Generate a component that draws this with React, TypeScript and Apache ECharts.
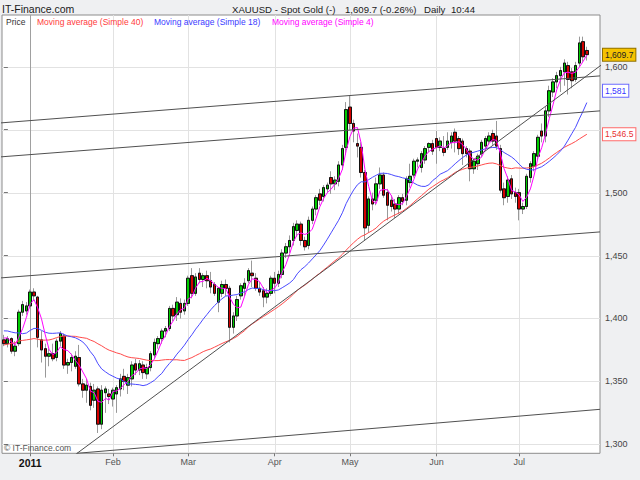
import React, { useEffect, useRef } from 'react';
import * as echarts from 'echarts';

const FONT = '"Liberation Sans", Arial, sans-serif';

// Closes of the 40 sessions before the first visible bar (for moving-average warm-up)
const priorCloses = [
  1345, 1357, 1352, 1356, 1348, 1392, 1394, 1403, 1395, 1403,
  1408, 1368, 1367, 1338, 1338, 1353, 1352, 1358, 1377, 1374,
  1373, 1362, 1366, 1386, 1389, 1389, 1406, 1423, 1400, 1383,
  1390, 1385, 1403, 1397, 1386, 1370, 1378, 1384, 1387, 1387,
];

const opens = [
  1383, 1380, 1384, 1374, 1380, 1405, 1406, 1410, 1421, 1417,
  1383, 1376, 1370, 1372, 1369, 1382, 1386, 1363, 1365, 1362,
  1369, 1348, 1343, 1346, 1335, 1344, 1316, 1341, 1340, 1336,
  1340, 1344, 1354, 1347, 1352, 1364, 1359, 1363, 1356, 1361,
  1371, 1380, 1384, 1390, 1392, 1408, 1403, 1412, 1406, 1412,
  1434, 1420, 1436, 1431, 1434, 1430, 1427, 1413, 1420, 1427,
  1424, 1393, 1402, 1418, 1424, 1430, 1436, 1432, 1424, 1422,
  1417, 1420, 1432, 1428, 1435, 1452, 1457, 1462, 1470, 1475,
  1462, 1458, 1478, 1487, 1499, 1497, 1503, 1512, 1507, 1509,
  1522, 1536, 1568, 1555, 1539, 1536, 1516, 1474, 1495, 1494,
  1507, 1514, 1500, 1494, 1491, 1487, 1496, 1494, 1508, 1514,
  1525, 1520, 1526, 1536, 1539, 1543, 1536, 1535, 1536, 1540,
  1548, 1543, 1541, 1535, 1533, 1519, 1523, 1531, 1537, 1541,
  1547, 1545, 1535, 1503, 1497, 1511, 1500, 1500, 1487, 1489,
  1512, 1521, 1529, 1549, 1545, 1565, 1580, 1588, 1593, 1596,
  1601, 1596, 1590, 1603, 1620, 1613,
];

const highs = [
  1387, 1386, 1385, 1382, 1407, 1414, 1413, 1423, 1424, 1418,
  1390, 1380, 1376, 1380, 1384, 1390, 1388, 1368, 1372, 1374,
  1379, 1352, 1352, 1349, 1348, 1346, 1347, 1346, 1344, 1345,
  1347, 1356, 1360, 1356, 1366, 1368, 1367, 1366, 1364, 1374,
  1384, 1386, 1392, 1394, 1410, 1411, 1417, 1416, 1415, 1434,
  1440, 1436, 1440, 1436, 1438, 1437, 1429, 1425, 1430, 1431,
  1426, 1405, 1418, 1428, 1432, 1440, 1446, 1436, 1429, 1425,
  1424, 1434, 1437, 1438, 1455, 1460, 1466, 1476, 1478, 1477,
  1465, 1481, 1489, 1498, 1503, 1506, 1508, 1517, 1513, 1525,
  1538, 1572, 1577, 1558, 1547, 1540, 1518, 1497, 1500, 1512,
  1520, 1516, 1503, 1498, 1495, 1498, 1499, 1513, 1523, 1527,
  1528, 1533, 1537, 1540, 1542, 1549, 1544, 1545, 1548, 1548,
  1551, 1545, 1543, 1537, 1535, 1527, 1531, 1542, 1545, 1548,
  1550, 1557, 1538, 1508, 1513, 1514, 1504, 1503, 1492, 1515,
  1525, 1533, 1546, 1555, 1568, 1585, 1591, 1596, 1600, 1606,
  1604, 1599, 1604, 1624, 1624, 1616,
];

const lows = [
  1378, 1377, 1372, 1370, 1378, 1402, 1403, 1408, 1414, 1377,
  1365, 1353, 1362, 1366, 1366, 1378, 1360, 1356, 1358, 1360,
  1346, 1337, 1333, 1327, 1329, 1309, 1312, 1325, 1332, 1330,
  1325, 1338, 1343, 1340, 1346, 1355, 1355, 1352, 1352, 1358,
  1368, 1376, 1380, 1385, 1390, 1398, 1398, 1400, 1403, 1410,
  1416, 1418, 1428, 1425, 1424, 1420, 1418, 1405, 1417, 1418,
  1381, 1388, 1398, 1415, 1418, 1428, 1425, 1422, 1418, 1409,
  1412, 1418, 1420, 1425, 1432, 1448, 1452, 1458, 1465, 1458,
  1454, 1455, 1475, 1482, 1490, 1493, 1500, 1499, 1502, 1505,
  1518, 1530, 1550, 1540, 1528, 1512, 1462, 1468, 1486, 1490,
  1503, 1496, 1478, 1485, 1480, 1483, 1490, 1490, 1504, 1512,
  1520, 1516, 1523, 1532, 1530, 1523, 1533, 1529, 1534, 1535,
  1532, 1530, 1522, 1528, 1509, 1515, 1518, 1528, 1533, 1538,
  1538, 1534, 1500, 1490, 1492, 1495, 1492, 1478, 1483, 1487,
  1508, 1517, 1526, 1540, 1540, 1560, 1576, 1583, 1580, 1585,
  1578, 1583, 1588, 1600, 1604, 1605,
];

const closes = [
  1380, 1384, 1374, 1378, 1405, 1411, 1410, 1421, 1418, 1385,
  1375, 1370, 1372, 1368, 1382, 1388, 1363, 1365, 1369, 1370,
  1348, 1343, 1347, 1331, 1343, 1316, 1343, 1344, 1338, 1343,
  1345, 1352, 1350, 1353, 1363, 1359, 1364, 1357, 1361, 1372,
  1381, 1384, 1390, 1392, 1408, 1402, 1413, 1405, 1412, 1432,
  1420, 1433, 1431, 1434, 1430, 1425, 1420, 1424, 1427, 1424,
  1393, 1402, 1415, 1426, 1428, 1438, 1434, 1424, 1421, 1417,
  1420, 1432, 1428, 1435, 1452, 1457, 1462, 1473, 1475, 1462,
  1457, 1478, 1487, 1496, 1494, 1504, 1506, 1507, 1510, 1522,
  1535, 1566, 1555, 1549, 1537, 1516, 1472, 1495, 1491, 1507,
  1514, 1498, 1490, 1489, 1487, 1496, 1493, 1511, 1513, 1525,
  1526, 1531, 1535, 1539, 1533, 1536, 1541, 1532, 1541, 1545,
  1541, 1535, 1531, 1531, 1519, 1525, 1529, 1540, 1543, 1545,
  1541, 1537, 1502, 1496, 1510, 1499, 1497, 1487, 1489, 1513,
  1523, 1531, 1544, 1545, 1565, 1581, 1588, 1593, 1597, 1603,
  1590, 1589, 1601, 1619, 1608, 1609.7,
];

const monthLabels = ['2011', 'Feb', 'Mar', 'Apr', 'May', 'Jun', 'Jul'];
const monthIndex = [7, 29, 49, 72, 92, 115, 137];
const yTickValues = [1300, 1350, 1400, 1450, 1500, 1550, 1600];
const yLabelValues = [1300, 1350, 1400, 1450, 1500, 1600];
const maPeriods = [40, 18, 4];
const maNames = ['Moving average (Simple 40)', 'Moving average (Simple 18)', 'Moving average (Simple 4)'];

const lastPrice = 1609.7;
const lastChangePct = -0.26;
const lastMA18Label = 1581;
const lastMA40Label = 1546.5;

// hand-drawn trend / channel lines: [barIndex, price] end points
const trendLines = [
  [[17, 1287.4], [160, 1604.0]],
  [[-1.03, 1555.4], [158.5, 1592.8]],
  [[-1.03, 1528.4], [158.5, 1565.0]],
  [[-1.03, 1432.2], [158.5, 1468.8]],
  [[19.44, 1292.85], [158.5, 1327.8]],
];

const X_COUNT = 159;
const Y_MIN = 1292.85;
const Y_MAX = 1641.2;

const categories = Array.from({ length: X_COUNT }, (_, i) => String(i));

function sma(period: number) {
  const all = [...priorCloses, ...closes];
  const off = priorCloses.length;
  return closes.map((_, j) => {
    const i = j + off;
    if (i < period - 1) return '-';
    let s = 0;
    for (let k = i - period + 1; k <= i; k++) s += all[k];
    return +(s / period).toFixed(2);
  });
}

const fmt = (v: number) => v.toLocaleString('en-US');

export default function App() {
  const ref = useRef<HTMLDivElement>(null);
  useEffect(() => {
    const chart = echarts.init(ref.current!, null, { renderer: 'svg' });
    const maColors = ['#ff4a4a', '#4a4aff', '#ff00ff'];
    const gridData = [
      ...yTickValues.map((v) => [0, v]),
      ...monthIndex.map((i, k) => [k === 0 ? 2 : 1, i]),
    ];
    const option: any = {
      animation: false,
      backgroundColor: '#eff0f2',
      textStyle: { fontFamily: FONT },
      grid: {
        left: 2, right: 40, top: 15, bottom: 26.7,
        show: true, backgroundColor: '#ffffff', borderColor: '#8c8c8c', borderWidth: 1,
        outerBoundsMode: 'none',
      },
      xAxis: [
        {
          type: 'category',
          data: categories,
          boundaryGap: true,
          axisLine: { show: false },
          axisTick: {
            show: true, alignWithLabel: true, length: 3,
            interval: (index: number) => monthIndex.includes(index),
            lineStyle: { color: '#777' },
          },
          axisLabel: {
            interval: (index: number) => monthIndex.includes(index),
            formatter: (_v: string, index: number) => {
              const k = monthIndex.indexOf(index);
              if (k < 0) return '';
              return k === 0 ? `{y|${monthLabels[0]}}` : monthLabels[k];
            },
            color: '#555', fontSize: 9, margin: 4, fontFamily: FONT,
            rich: { y: { fontWeight: 'bold', fontSize: 10.5, color: '#111', fontFamily: FONT } },
          },
          splitLine: { show: false },
        },
        { type: 'value', min: -0.5, max: X_COUNT - 0.5, show: false },
      ],
      yAxis: {
        type: 'value', position: 'right', min: Y_MIN, max: Y_MAX, scale: true,
        axisLine: { show: false },
        axisTick: { show: true, customValues: yTickValues, length: 4, lineStyle: { color: '#777' } },
        axisLabel: {
          customValues: yLabelValues, formatter: (v: number) => fmt(v),
          color: '#444', fontSize: 9, margin: 5, fontFamily: FONT,
        },
        splitLine: { show: false },
      },
      series: [
        {
          type: 'custom', xAxisIndex: 1, yAxisIndex: 0, silent: true, z: 0,
          data: gridData,
          renderItem: (_p: any, api: any) => {
            const kind = api.value(0);
            const v = api.value(1);
            let a: number[];
            let b: number[];
            if (kind === 0) {
              a = api.coord([-0.5, v]);
              b = api.coord([X_COUNT - 0.5, v]);
              const y = Math.round(a[1]) + 0.5;
              return { type: 'line', shape: { x1: a[0], y1: y, x2: b[0], y2: y }, style: { stroke: '#e2e2e2', lineWidth: 1 } };
            }
            a = api.coord([v, Y_MAX]);
            b = api.coord([v, Y_MIN]);
            const x = Math.round(a[0]) + 0.5;
            return { type: 'line', shape: { x1: x, y1: a[1], x2: x, y2: b[1] }, style: { stroke: kind === 2 ? '#a0a0a0' : '#e2e2e2', lineWidth: 1 } };
          },
        },
        {
          type: 'candlestick', xAxisIndex: 0, yAxisIndex: 0, silent: true, barWidth: 3, z: 2,
          data: closes.map((c, i) => [opens[i], c, lows[i], highs[i]]),
          itemStyle: { color: '#999', color0: '#999', borderColor: '#999', borderColor0: '#999', borderWidth: 1 },
        },
        {
          type: 'candlestick', xAxisIndex: 0, yAxisIndex: 0, silent: true, barWidth: 3, z: 2,
          data: closes.map((c, i) => [opens[i], c, Math.min(opens[i], c), Math.max(opens[i], c)]),
          itemStyle: { color: '#00cc00', color0: '#d40000', borderColor: '#111', borderColor0: '#111', borderWidth: 1 },
        },
        ...maPeriods.map((p, k) => ({
          type: 'line', name: maNames[k], xAxisIndex: 0, yAxisIndex: 0, silent: true, z: 3,
          data: sma(p), showSymbol: false, symbol: 'none',
          lineStyle: { color: maColors[k], width: 1 },
        })),
        ...trendLines.map((pts) => ({
          type: 'line', xAxisIndex: 1, yAxisIndex: 0, silent: true, z: 4, clip: true,
          data: pts, showSymbol: false, symbol: 'none',
          lineStyle: { color: '#505050', width: 1 },
        })),
      ],
    };
    chart.setOption(option);

    const py = (v: number) => chart.convertToPixel({ yAxisIndex: 0 }, v) as unknown as number;
    const boxText = (id: string, text: string, y: number, fill: string, bg: string, border: string) => ({
      type: 'text', id, x: 603, y, z: 100,
      style: {
        text, fill, fontSize: 8.5, fontFamily: FONT, verticalAlign: 'middle', align: 'left',
        backgroundColor: bg, borderColor: border, borderWidth: 1, padding: [2, 2, 1, 2],
      },
    });
    const plain = (id: string, text: string, x: number, y: number, fill: string, fontSize: number, extra: any = {}) => ({
      type: 'text', id, x, y, z: 100,
      style: { text, fill, fontSize, fontFamily: FONT, verticalAlign: 'middle', align: 'left', ...extra },
    });
    const changeStr = `${fmt(lastPrice)} (${lastChangePct.toFixed(2)}%)`;
    chart.setOption({
      graphic: {
        elements: [
          plain('h1', 'IT-Finance.com', 2, 9, '#1a1a1a', 10.5),
          plain('h2', 'XAUUSD - Spot Gold (-)', 232, 9, '#1a1a1a', 9.6),
          plain('h3', changeStr, 345, 9, '#1a1a1a', 9.6),
          plain('h4', 'Daily', 424, 9, '#1a1a1a', 9.6),
          plain('h5', '10:44', 451, 9, '#1a1a1a', 9.6),
          plain('l0', 'Price', 6, 22, '#333', 8.5),
          plain('l1', maNames[0], 37, 22, '#ff3b3b', 8.5),
          plain('l2', maNames[1], 154, 22, '#3b3bff', 8.5),
          plain('l3', maNames[2], 272, 22, '#ff00ff', 8.5),
          plain('wm', '© IT-Finance.com', 4, 448, '#555', 8.5),
          boxText('b1', fmt(lastPrice), py(lastPrice), '#222', '#f5c200', '#8f7000'),
          boxText('b2', fmt(lastMA18Label), py(lastMA18Label), '#3535ff', '#ffffff', '#6a6aff'),
          boxText('b3', fmt(lastMA40Label), py(lastMA40Label), '#e83030', '#ffffff', '#ff6a6a'),
        ],
      },
    });
    return () => chart.dispose();
  }, []);
  return <div ref={ref} style={{ position: 'fixed', left: 0, top: 0, width: 640, height: 480 }} />;
}
